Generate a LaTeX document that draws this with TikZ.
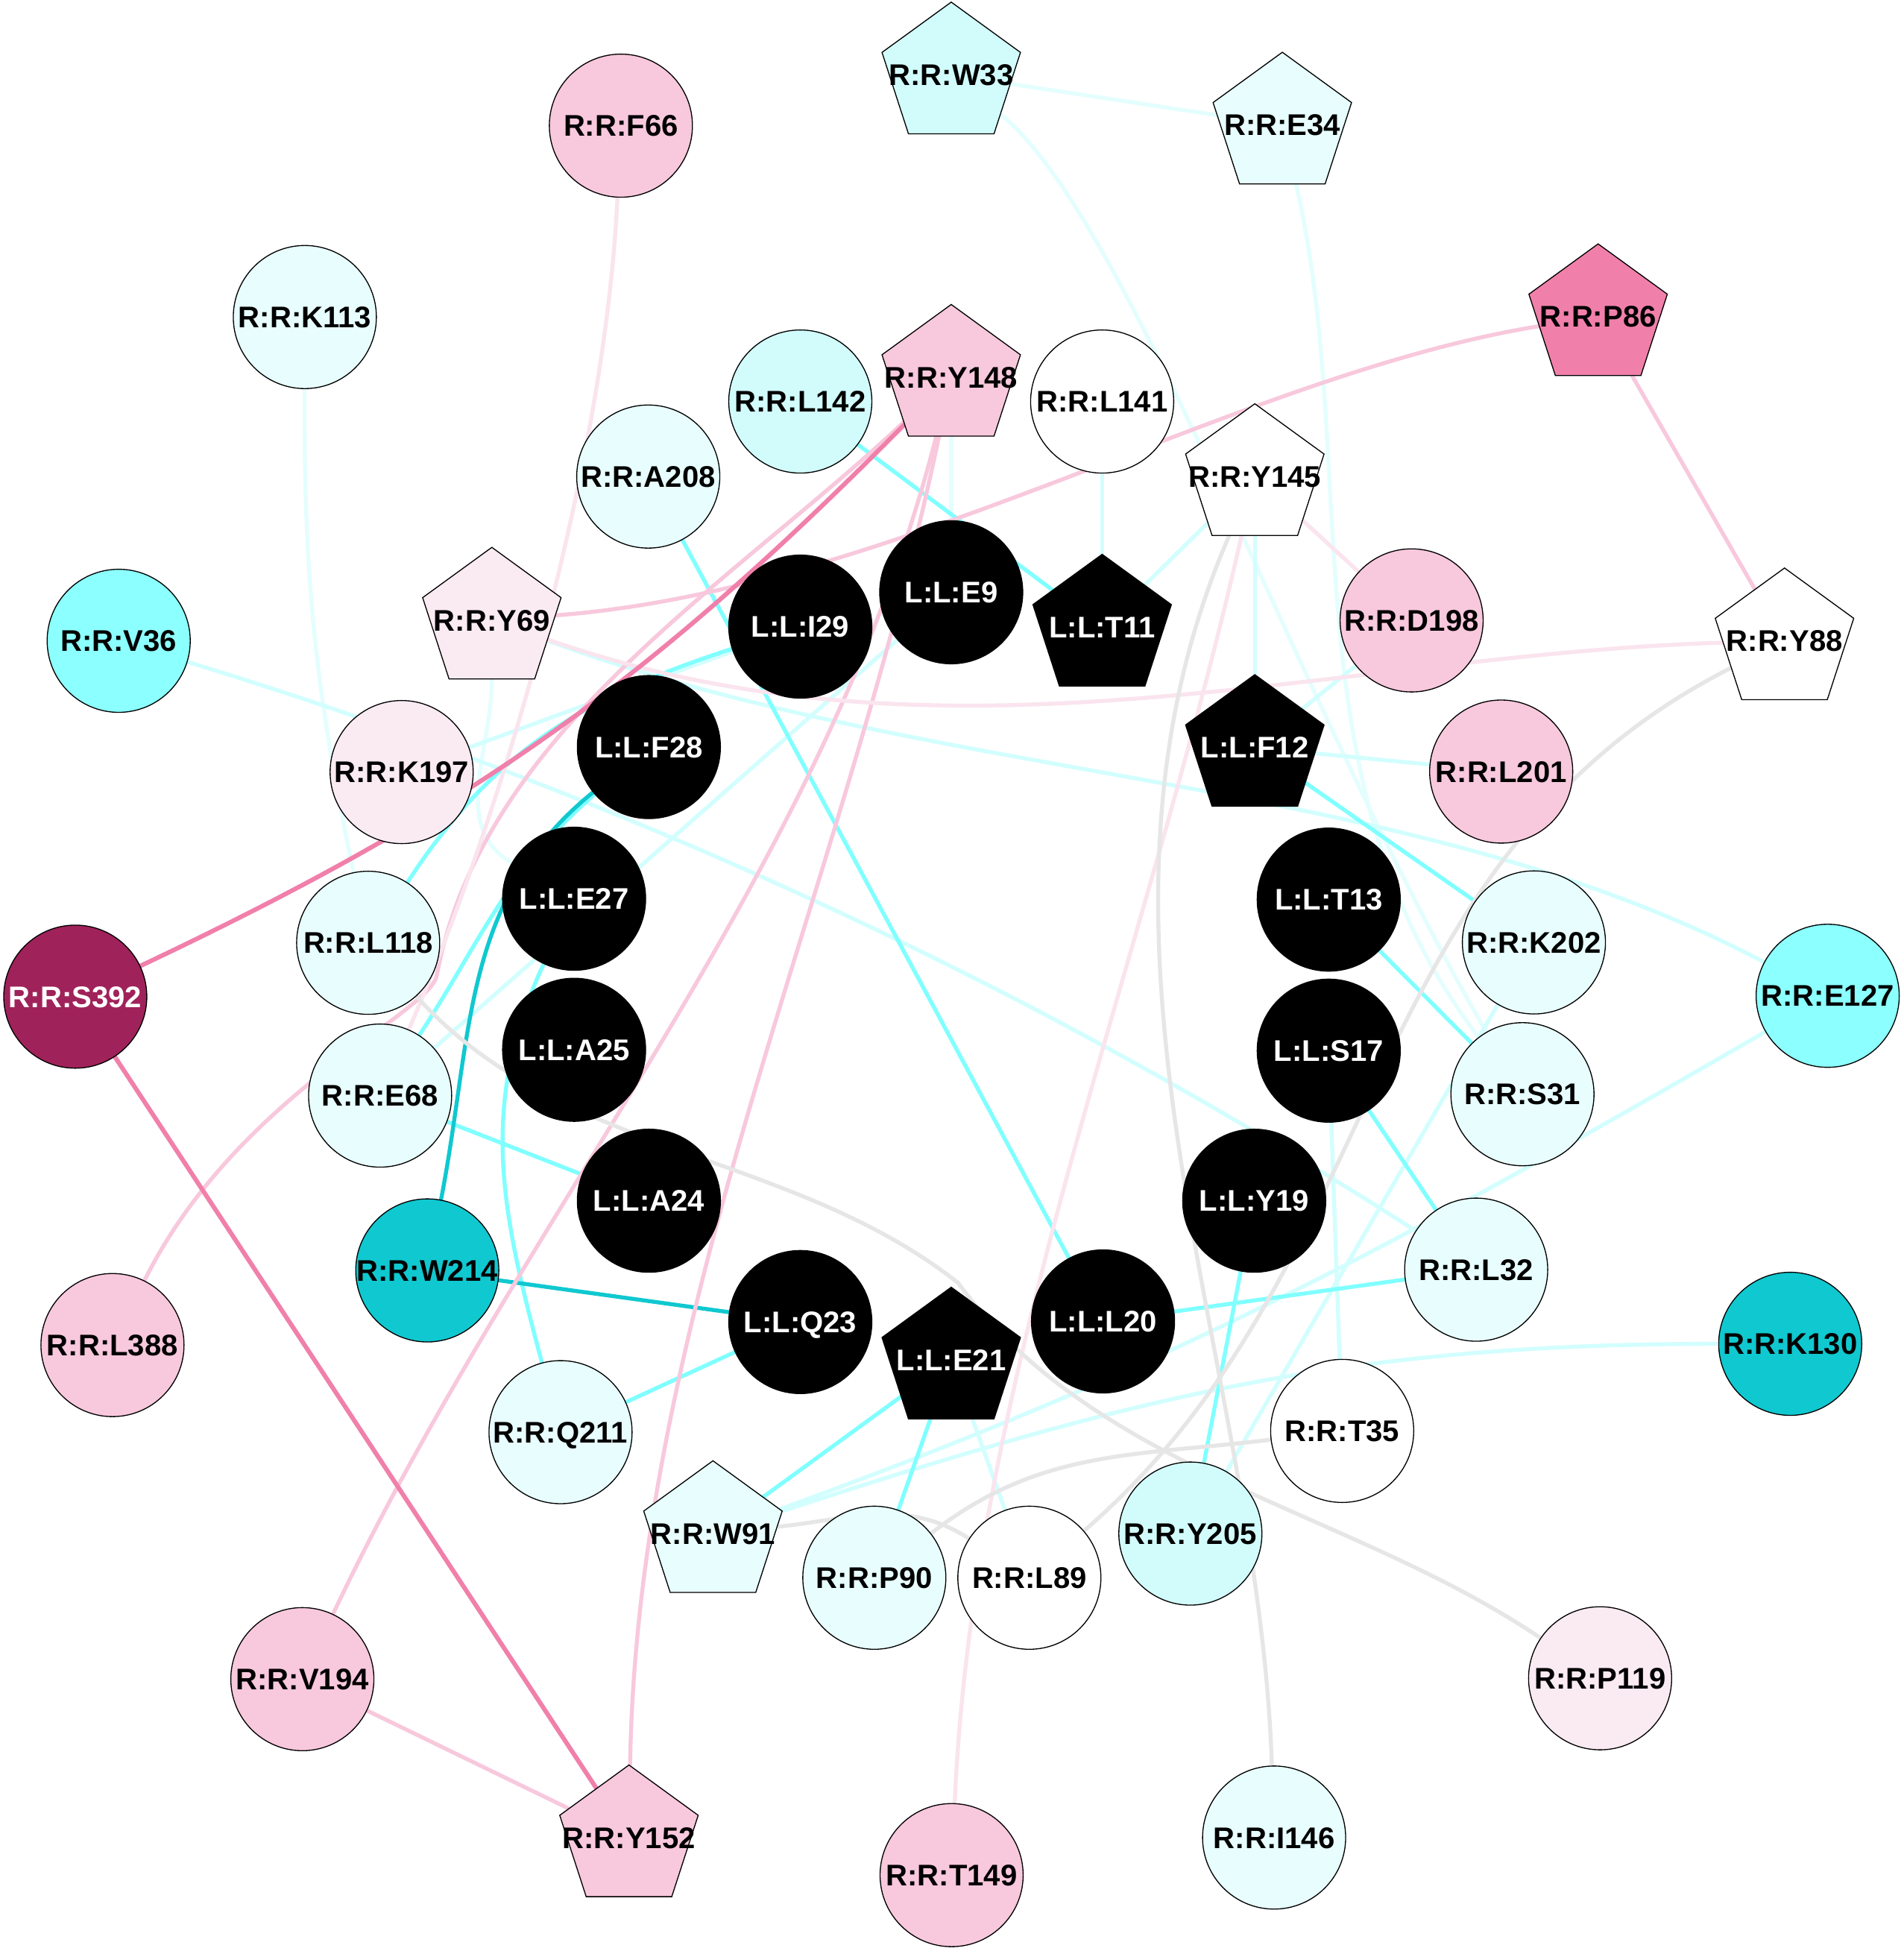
\documentclass[tikz,border=0pt]{standalone}
\usepackage{fontspec}
\setmainfont{Liberation Sans}
\usetikzlibrary{shapes.geometric,backgrounds}
\definecolor{ecyan}{HTML}{80FFFF}
\definecolor{elc}{HTML}{D2FEFE}
\definecolor{evlc}{HTML}{E4FEFE}
\definecolor{epink}{HTML}{F8C8DC}
\definecolor{efpink}{HTML}{FAE4EE}
\definecolor{ehot}{HTML}{F080AA}
\definecolor{eteal}{HTML}{10C8D0}
\definecolor{egrey}{HTML}{E6E6E6}
\definecolor{fpink}{HTML}{F8C8DC}
\definecolor{flpink}{HTML}{FAEAF2}
\definecolor{fhot}{HTML}{F080AA}
\definecolor{fmag}{HTML}{A0225A}
\definecolor{fcyan}{HTML}{8CFFFF}
\definecolor{fteal}{HTML}{10C8D0}
\definecolor{flc}{HTML}{D2FCFC}
\definecolor{fvlc}{HTML}{E8FEFE}
\tikzset{
  res/.style={circle, draw=black, line width=0.8pt, minimum size=115pt, inner sep=0pt, outer sep=0pt},
  pent/.style={regular polygon, regular polygon sides=5, draw=black, line width=0.8pt, minimum size=117pt, inner sep=0pt, outer sep=0pt},
  lig/.style={res, fill=black},
  ligp/.style={pent, fill=black},
  txt/.style={font=\bfseries\fontsize{24pt}{28pt}\selectfont, text height=17pt, text depth=0pt, inner sep=0pt, text=black},
  wtxt/.style={txt, text=white},
  e/.style={line width=3.2pt},
  eh/.style={line width=3.6pt, ehot}
}
\begin{document}
\begin{tikzpicture}[x=1pt, y=-1pt]
\useasboundingbox (0,0) rectangle (1530,1568);
% outer ring
\node[pent, fill=flc, label={[txt]center:{R:R:W33}}] (W33) at (764.5,60.2) {};
\node[pent, fill=fvlc, label={[txt]center:{R:R:E34}}] (E34) at (1030.6,100.5) {};
\node[res, fill=fpink, label={[txt]center:{R:R:F66}}] (F66) at (499,101) {};
\node[res, fill=fvlc, label={[txt]center:{R:R:K113}}] (K113) at (245,254.8) {};
\node[pent, fill=fhot, label={[txt]center:{R:R:P86}}] (P86) at (1284.4,254.5) {};
\node[res, fill=fcyan, label={[txt]center:{R:R:V36}}] (V36) at (95.4,515) {};
\node[pent, fill=white, label={[txt]center:{R:R:Y88}}] (Y88) at (1434.2,515) {};
\node[res, fill=fmag, label={[wtxt]center:{R:R:S392}}] (S392) at (60.5,801) {};
\node[res, fill=fcyan, label={[txt]center:{R:R:E127}}] (E127) at (1468.9,800.3) {};
\node[res, fill=fpink, label={[txt]center:{R:R:L388}}] (L388) at (90.4,1081) {};
\node[res, fill=fteal, label={[txt]center:{R:R:K130}}] (K130) at (1438.8,1080) {};
\node[res, fill=fpink, label={[txt]center:{R:R:V194}}] (V194) at (243,1349.5) {};
\node[res, fill=flpink, label={[txt]center:{R:R:P119}}] (P119) at (1286,1348.8) {};
\node[pent, fill=fpink, label={[txt]center:{R:R:Y152}}] (Y152) at (505.5,1477) {};
\node[res, fill=fvlc, label={[txt]center:{R:R:I146}}] (I146) at (1024,1476.8) {};
\node[res, fill=fpink, label={[txt]center:{R:R:T149}}] (T149) at (764.8,1507) {};
% middle ring
\node[res, fill=flc, label={[txt]center:{R:R:L142}}] (L142) at (643.2,322.7) {};
\node[pent, fill=fpink, label={[txt]center:{R:R:Y148}}] (Y148) at (764.5,303.2) {};
\node[res, fill=white, label={[txt]center:{R:R:L141}}] (L141) at (885.8,322.7) {};
\node[res, fill=fvlc, label={[txt]center:{R:R:A208}}] (A208) at (521,383) {};
\node[pent, fill=white, label={[txt]center:{R:R:Y145}}] (Y145) at (1008.5,383) {};
\node[pent, fill=flpink, label={[txt]center:{R:R:Y69}}] (Y69) at (395.3,498.4) {};
\node[res, fill=fpink, label={[txt]center:{R:R:D198}}] (D198) at (1134.5,498.6) {};
\node[res, fill=flpink, label={[txt]center:{R:R:K197}}] (K197) at (322.8,620.5) {};
\node[res, fill=fpink, label={[txt]center:{R:R:L201}}] (L201) at (1206.5,620.1) {};
\node[res, fill=fvlc, label={[txt]center:{R:R:L118}}] (L118) at (295.9,757.7) {};
\node[res, fill=fvlc, label={[txt]center:{R:R:K202}}] (K202) at (1232.8,757.4) {};
\node[res, fill=fvlc, label={[txt]center:{R:R:E68}}] (E68) at (305.5,880.5) {};
\node[res, fill=fvlc, label={[txt]center:{R:R:S31}}] (S31) at (1223.6,879.4) {};
\node[res, fill=fteal, label={[txt]center:{R:R:W214}}] (W214) at (343.4,1021) {};
\node[res, fill=fvlc, label={[txt]center:{R:R:L32}}] (L32) at (1186.4,1020.4) {};
\node[res, fill=fvlc, label={[txt]center:{R:R:Q211}}] (Q211) at (450.5,1151) {};
\node[res, fill=white, label={[txt]center:{R:R:T35}}] (T35) at (1078.7,1150) {};
\node[pent, fill=fvlc, label={[txt]center:{R:R:W91}}] (W91) at (573,1232.5) {};
\node[res, fill=flc, label={[txt]center:{R:R:Y205}}] (Y205) at (956.7,1232.5) {};
\node[res, fill=fvlc, label={[txt]center:{R:R:P90}}] (P90) at (702.7,1268) {};
\node[res, fill=white, label={[txt]center:{R:R:L89}}] (L89) at (827.3,1268) {};
% ligand
\node[lig, label={[wtxt]center:{L:L:E9}}] (E9) at (764.5,476) {};
\node[lig, label={[wtxt]center:{L:L:I29}}] (I29) at (643.2,503.6) {};
\node[ligp, label={[wtxt]center:{L:L:T11}}] (T11) at (885.8,504) {};
\node[lig, label={[wtxt]center:{L:L:F28}}] (F28) at (521.5,600.4) {};
\node[ligp, label={[wtxt]center:{L:L:F12}}] (F12) at (1008.5,600.7) {};
\node[lig, label={[wtxt]center:{L:L:E27}}] (E27) at (461.4,722.3) {};
\node[lig, label={[wtxt]center:{L:L:T13}}] (T13) at (1067.9,723) {};
\node[lig, label={[wtxt]center:{L:L:A25}}] (A25) at (461.4,843.7) {};
\node[lig, label={[wtxt]center:{L:L:S17}}] (S17) at (1067.9,844.4) {};
\node[lig, label={[wtxt]center:{L:L:A24}}] (A24) at (521.5,965) {};
\node[lig, label={[wtxt]center:{L:L:Y19}}] (Y19) at (1008,965) {};
\node[lig, label={[wtxt]center:{L:L:Q23}}] (Q23) at (643.2,1062.5) {};
\node[lig, label={[wtxt]center:{L:L:L20}}] (L20) at (886.5,1062) {};
\node[ligp, label={[wtxt]center:{L:L:E21}}] (E21) at (764.5,1093) {};
\begin{scope}[on background layer]
\fill[white] (0,0) rectangle (1530,1568);
% very light cyan
\draw[e, evlc] (W33) -- (E34);
\draw[e, evlc] (W33) .. controls (908,175) and (1046,574) .. (S31);
\draw[e, evlc] (E34) .. controls (1094,374) and (1032,630) .. (S31);
\draw[e, evlc] (K113) to[bend right=6] (L118);
\draw[e, evlc] (Y148) -- (E9);
\draw[e, evlc] (Y69) to[out=-90, in=150] (E27);
% light cyan
\draw[e, elc] (V36) .. controls (511.6,642.5) and (835.4,795.2) .. (L32);
\draw[e, elc] (Y69) .. controls (756.5,631) and (1130,621) .. (E127);
\draw[e, elc] (I29) -- (K197);
\draw[e, elc] (L141) -- (T11);
\draw[e, elc] (Y145) -- (T11);
\draw[e, elc] (Y145) -- (F12);
\draw[e, elc] (F12) -- (L201);
\draw[e, elc] (F12) -- (D198);
\draw[e, elc] (K202) -- (Y205);
\draw[e, elc] (S17) -- (T35);
\draw[e, elc] (E21) -- (L89);
\draw[e, elc] (K130) to[out=180, in=18] (W91);
\draw[e, elc] (E127) to[out=210, in=20] (W91);
\draw[e, elc] (E9) -- (E68);
% bright cyan
\draw[e, ecyan] (L142) -- (T11);
\draw[e, ecyan] (A208) -- (L20);
\draw[e, ecyan] (I29) to[out=198, in=57] (L118);
\draw[e, ecyan] (F28) to[out=-139, in=57] (E68);
\draw[e, ecyan] (E27) to[out=-115, in=105] (Q211);
\draw[e, ecyan] (E68) -- (A24);
\draw[e, ecyan] (Q23) -- (Q211);
\draw[e, ecyan] (E21) -- (W91);
\draw[e, ecyan] (E21) -- (P90);
\draw[e, ecyan] (L20) -- (L32);
\draw[e, ecyan] (Y19) -- (Y205);
\draw[e, ecyan] (S17) -- (L32);
\draw[e, ecyan] (T13) -- (S31);
\draw[e, ecyan] (F12) -- (K202);
% teal
\draw[e, eteal] (F28) to[out=-141, in=79] (W214);
\draw[e, eteal] (W214) -- (Q23);
% pink
\draw[e, epink] (P86) .. controls (996,301) and (720,474) .. (Y69);
\draw[e, epink] (P86) -- (Y88);
\draw[e, epink] (Y148) .. controls (680,710) and (512,1055) .. (Y152);
\draw[e, epink] (Y148) .. controls (664,699) and (419,976) .. (V194);
\draw[e, epink] (Y148) .. controls (590,468) and (388,587) .. (351,784) .. controls (345,815) and (190,880) .. (L388);
\draw[e, epink] (V194) -- (Y152);
% faint pink
\draw[e, efpink] (F66) .. controls (486,375) and (403,656) .. (E68);
\draw[e, efpink] (Y69) .. controls (765,627) and (1070,526) .. (Y88);
\draw[e, efpink] (Y145) -- (D198);
\draw[e, efpink] (Y145) .. controls (921,772) and (782,1106) .. (T149);
% hot pink
\draw[eh] (Y148) to[bend left=10] (S392);
\draw[eh] (S392) -- (Y152);
% grey
\draw[e, egrey] (Y145) .. controls (846,757) and (1012,1095) .. (I146);
\draw[e, egrey] (L118) .. controls (451,930) and (634,924) .. (770,1031) .. controls (882,1184) and (1085,1213) .. (P119);
\draw[e, egrey] (Y88) .. controls (1087,691) and (1118,1018) .. (L89);
\draw[e, egrey] (W91) to[out=6, in=147] (L89);
\draw[e, egrey] (T35) to[out=187, in=38] (P90);
\end{scope}
\end{tikzpicture}
\end{document}
